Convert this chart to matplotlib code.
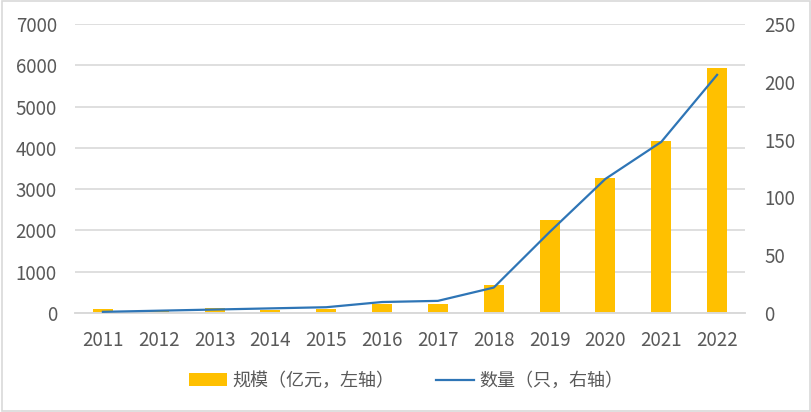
import matplotlib.pyplot as plt
from matplotlib.patches import Rectangle

plt.rcParams['font.family'] = ['Noto Sans CJK SC', 'DejaVu Sans']

years = ["2011", "2012", "2013", "2014", "2015", "2016", "2017",
         "2018", "2019", "2020", "2021", "2022"]
scale = [90, 60, 110, 80, 100, 225, 225, 680, 2250, 3270, 4160, 5930]
count = [1, 2, 3, 4, 5, 9.5, 10.5, 22, 70, 116, 148, 206]

fig = plt.figure(figsize=(8.12, 4.12), dpi=100)
ax = fig.add_axes([75 / 812, 1 - 313 / 412, 670 / 812, 289 / 412])
ax2 = ax.twinx()

x = list(range(len(years)))
bars = ax.bar(x, scale, width=0.36, color="#ffc000", zorder=2, label="规模（亿元，左轴）")
line, = ax2.plot(x, count, color="#2e75b6", linewidth=1.6, zorder=3, label="数量（只，右轴）")

ax.set_xlim(-0.5, len(years) - 0.5)
ax.set_ylim(0, 7000)
ax.set_yticks(range(0, 7001, 1000))
ax2.set_ylim(0, 250)
ax2.set_yticks(range(0, 251, 50))
ax.set_xticks(x)
ax.set_xticklabels(years)

ax.grid(axis="y", color="#d9d9d9", linewidth=1.2, zorder=0)
ax.set_axisbelow(True)
for a in (ax, ax2):
    for s in ("top", "left", "right"):
        a.spines[s].set_visible(False)
    a.spines["bottom"].set_color("#d9d9d9")
    a.spines["bottom"].set_linewidth(1.2)
    a.tick_params(length=0, labelsize=13.5, colors="#595959")
ax.tick_params(axis="y", pad=13)
ax2.tick_params(axis="y", pad=14)
ax.tick_params(axis="x", pad=12)

fig.legend(handles=[bars, line], loc="center", bbox_to_anchor=(0.5, 1 - 381 / 412),
           ncol=2, frameon=False, fontsize=13, labelcolor="#595959",
           handlelength=2.1, handleheight=0.7, columnspacing=2.3, handletextpad=0.3)

fig.patches.append(Rectangle((0.002, 0.002), 0.996, 0.996, transform=fig.transFigure,
                             fill=False, edgecolor="#d9d9d9", linewidth=1.2))

fig.savefig("out.png", dpi=100)
